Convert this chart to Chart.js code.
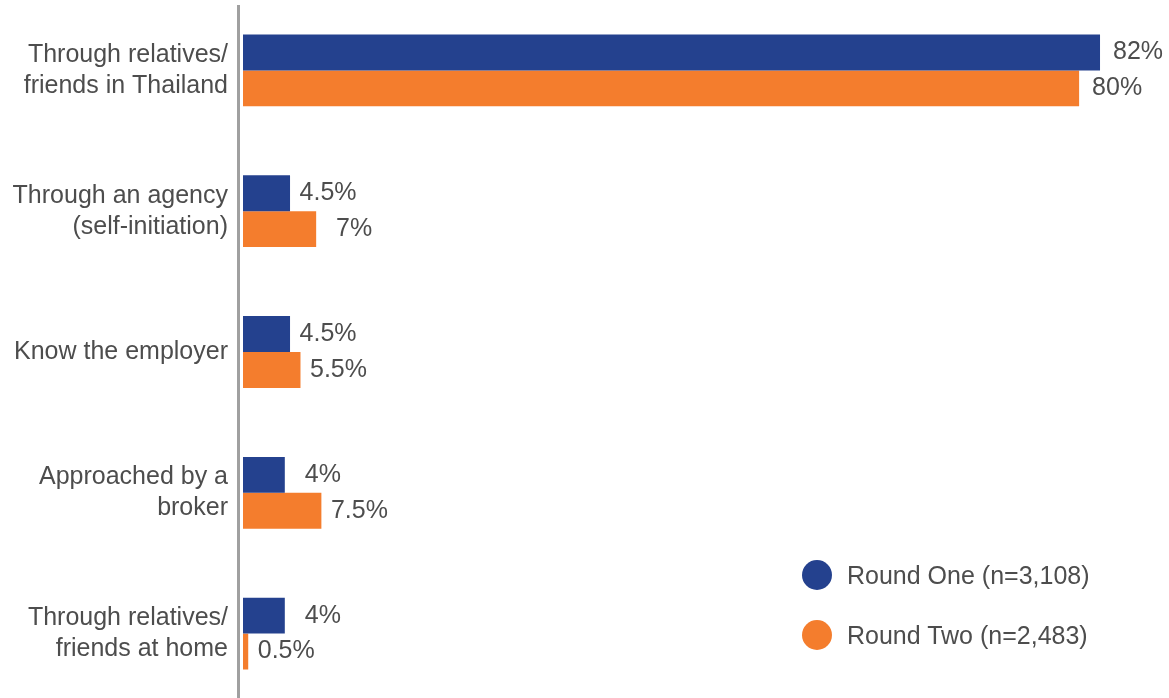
<!DOCTYPE html>
<html>
<head>
<meta charset="utf-8">
<script src="https://cdn.jsdelivr.net/npm/chart.js@4/dist/chart.umd.min.js"></script>
<style>
  html, body { margin: 0; padding: 0; background: #fff; overflow: hidden; }
  #wrap { position: relative; width: 1169px; height: 704px; }
  .legend { position: absolute; left: 802px; font: 25px "Liberation Sans", Arial, sans-serif; color: #4d4d4d; }
  .legend div { height: 30px; line-height: 30px; margin-bottom: 30px; white-space: nowrap; }
  .legend span { display: inline-block; width: 30px; height: 30px; border-radius: 50%; vertical-align: top; margin-right: 15px; }
</style>
</head>
<body>
<div id="wrap">
  <canvas id="grafica"></canvas>
  <div class="legend" style="top:560px">
    <div><span style="background:#24418e"></span>Round One (n=3,108)</div>
    <div><span style="background:#f47d2d"></span>Round Two (n=2,483)</div>
  </div>
</div>
<script>
const categorias = [
    ['Through relatives/', 'friends in Thailand'],
    ['Through an agency', '(self-initiation)'],
    ['Know the employer'],
    ['Approached by a', 'broker'],
    ['Through relatives/', 'friends at home']
];
const rondaUno = [82, 4.5, 4.5, 4, 4];
const rondaDos = [80, 7, 5.5, 7.5, 0.5];

const colorUno = '#24418e';
const colorDos = '#f47d2d';
const fuente = '"Liberation Sans", Arial, sans-serif';

// etiquetas de porcentaje al final de cada barra
const etiquetasBarras = {
    id: 'etiquetasBarras',
    afterDatasetsDraw(chart) {
        const ctx = chart.ctx;
        ctx.save();
        ctx.font = '25px ' + fuente;
        ctx.fillStyle = '#4d4d4d';
        ctx.textAlign = 'center';
        ctx.textBaseline = 'middle';
        chart.data.datasets.forEach((ds, i) => {
            chart.getDatasetMeta(i).data.forEach((bar, j) => {
                ctx.fillText(ds.data[j] + '%', bar.x + 38, bar.y);
            });
        });
        ctx.restore();
    }
};

// linea vertical gris del eje
const lineaEje = {
    id: 'lineaEje',
    afterDraw(chart) {
        const ctx = chart.ctx;
        const x = chart.chartArea.left - 4.5;
        ctx.save();
        ctx.strokeStyle = '#a0a0a0';
        ctx.lineWidth = 3;
        ctx.beginPath();
        ctx.moveTo(x, 5);
        ctx.lineTo(x, chart.chartArea.bottom);
        ctx.stroke();
        ctx.restore();
    }
};

new Chart(document.getElementById('grafica'), {
    type: 'bar',
    data: {
        labels: categorias,
        datasets: [
            { label: 'Round One (n=3,108)', data: rondaUno, backgroundColor: colorUno },
            { label: 'Round Two (n=2,483)', data: rondaDos, backgroundColor: colorDos }
        ]
    },
    options: {
        indexAxis: 'y',
        responsive: true,
        maintainAspectRatio: false,
        animation: false,
        layout: { padding: 0 },
        datasets: { bar: { barPercentage: 1.0, categoryPercentage: 0.51 } },
        scales: {
            x: { display: false, min: 0, max: 88.6 },
            y: {
                afterFit(scale) {
                    scale.width = 243;
                    scale.paddingTop = 0;
                    scale.paddingBottom = 0;
                },
                grid: { display: false, drawTicks: false },
                border: { display: false },
                ticks: {
                    padding: 15,
                    color: '#4d4d4d',
                    font: { family: fuente, size: 25, lineHeight: 1.24 }
                }
            }
        },
        plugins: {
            legend: { display: false },
            tooltip: { enabled: false }
        }
    },
    plugins: [etiquetasBarras, lineaEje]
});
</script>
</body>
</html>
